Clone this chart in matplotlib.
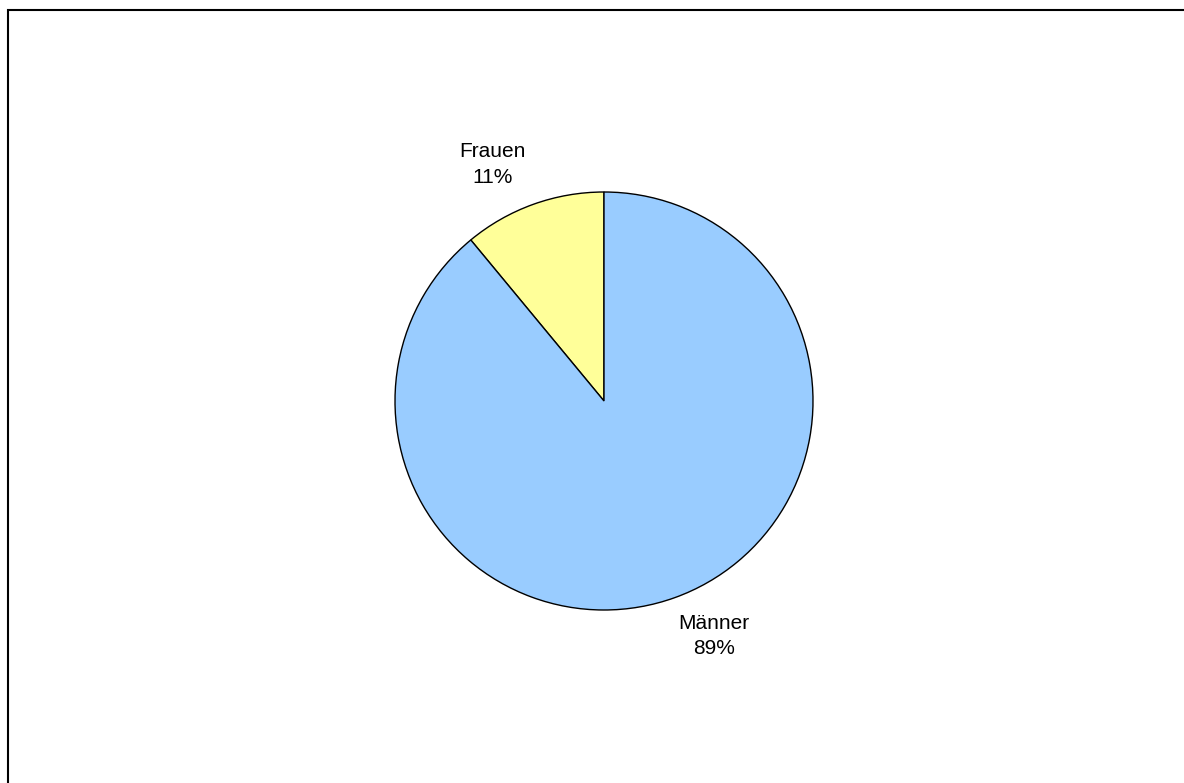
import matplotlib
matplotlib.use("Agg")
import matplotlib.pyplot as plt
from matplotlib.patches import Rectangle

# data
categories = ["Männer", "Frauen"]
values = [89, 11]
colors = ["#99CCFF", "#FFFF99"]

plt.rcParams["font.family"] = ["Liberation Sans", "DejaVu Sans"]

fig = plt.figure(figsize=(11.84, 7.83), dpi=100)

# outer frame like the original chart area
fig.patches.append(Rectangle((8 / 1184, -0.1), 1.2, (783 - 10) / 783 + 0.1,
                             transform=fig.transFigure, fill=False,
                             edgecolor="black", linewidth=1.5))

ax = fig.add_axes([395 / 1184, (783 - 610) / 783, 418 / 1184, 418 / 783])
# Frauen goes counterclockwise from 12 o'clock, Männer fills the rest
ax.pie(values[::-1], colors=colors[::-1], startangle=90, counterclock=True,
       wedgeprops=dict(edgecolor="black", linewidth=1.0))
ax.set_aspect("equal")
ax.set_xlim(-1, 1)
ax.set_ylim(-1, 1)

label_pos = {"Frauen": (-0.535, 1.13), "Männer": (0.526, -1.125)}
for name, val in zip(categories, values):
    x, y = label_pos[name]
    ax.text(x, y, f"{name}\n{val}%", ha="center", va="center",
            fontsize=15, linespacing=1.45, clip_on=False)

fig.savefig("out.png", dpi=100)
